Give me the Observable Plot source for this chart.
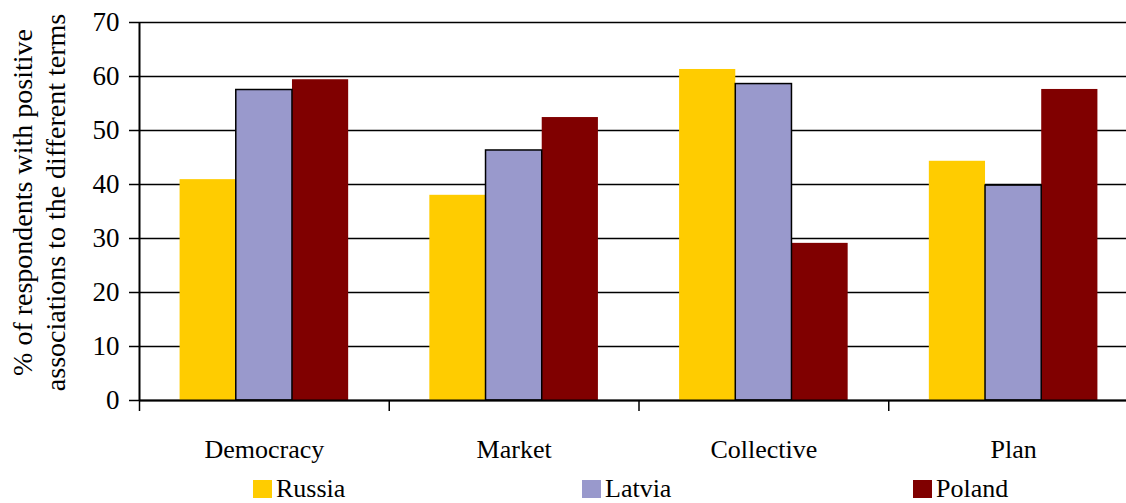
<!DOCTYPE html>
<html><head><meta charset="utf-8">
<script src="https://cdn.jsdelivr.net/npm/d3@7"></script>
<script src="https://cdn.jsdelivr.net/npm/@observablehq/plot@0.6"></script>
<style>
html,body{margin:0;padding:0;background:#fff;overflow:hidden;font-family:'Liberation Serif',serif;}
#wrap{position:relative;width:1126px;height:503px;font-family:'Liberation Serif',serif;}
#wrap svg{display:block;}
#wrap svg text{font-family:'Liberation Serif',serif !important;}
.leg{position:absolute;top:474px;display:flex;align-items:center;font-size:26px;line-height:30px;color:#000;font-family:'Liberation Serif',serif;}
.sw{width:19px;height:18px;margin-right:4px;}
</style></head><body><div id="wrap"></div>
<script>
const categories = ["Democracy", "Market", "Collective", "Plan"];
const countries = ["Russia", "Latvia", "Poland"];
const russia = [40.9, 38.0, 61.3, 44.3];
const latvia = [57.5, 46.3, 58.6, 39.8];
const poland = [59.4, 52.4, 29.1, 57.6];
const colors = ["#FFCC00", "#9999CC", "#800000"];
const yTicks = [0, 10, 20, 30, 40, 50, 60, 70];
const yLabel = "% of respondents with positive\nassociations to the different terms";

const FONT = "'Liberation Serif', serif";
const series = [russia, latvia, poland];
const rows = [];
categories.forEach((c, i) => countries.forEach((k, j) => rows.push({category: c, country: k, i, j, value: series[j][i]})));

const groupStart = 0.1625, barW = 0.225;
const x1 = d => d.i + groupStart + d.j * barW;
const x2 = d => d.i + groupStart + (d.j + 1) * barW;

const chart = Plot.plot({
  width: 1126, height: 470,
  marginLeft: 139, marginRight: 0, marginTop: 22, marginBottom: 70,
  style: {fontFamily: FONT, fontSize: "26px", color: "black", background: "white", overflow: "visible"},
  x: {domain: [0, categories.length], range: [139, 1138]},
  y: {domain: [0, 70]},
  color: {domain: countries, range: colors},
  marks: [
    Plot.gridY(yTicks, {stroke: "black", strokeOpacity: 1, strokeWidth: 1.5}),
    Plot.rectY(rows, {x1, x2, y1: 0, y2: "value", fill: "country"}),
    Plot.rectY(rows.filter(d => d.country === "Latvia"), {x1, x2, y1: 0, y2: "value", fill: "none", stroke: "black", strokeWidth: 1.5}),
    Plot.ruleY([0], {stroke: "black", strokeWidth: 2}),
    Plot.ruleX([0], {stroke: "black", strokeWidth: 2}),
    Plot.axisY({ticks: yTicks, tickSize: 10, tickPadding: 10, fontSize: 27, fontFamily: FONT, strokeWidth: 1.5, label: null}),
    Plot.axisX({ticks: d3.range(categories.length + 1), tickSize: 11, tickFormat: () => "", strokeWidth: 1.5, label: null}),
    Plot.axisX({ticks: categories.map((c, i) => i + 0.5), tickSize: 0, tickPadding: 39, tickFormat: v => categories[Math.floor(v)], fontSize: 26, fontFamily: FONT, label: null}),
    Plot.text([yLabel], {text: d => d, frameAnchor: "left", textAnchor: "middle", rotate: -90, dx: -102, dy: -9, fontSize: 28, fontFamily: FONT, lineHeight: 1.18, fill: "black"})
  ]
});
const wrap = document.getElementById("wrap");
wrap.appendChild(chart);

const legLeft = [253, 582, 913];
countries.forEach((k, j) => {
  const item = document.createElement("div");
  item.className = "leg";
  item.style.left = legLeft[j] + "px";
  const sw = document.createElement("div");
  sw.className = "sw";
  sw.style.background = colors[j];
  const t = document.createElement("span");
  t.textContent = k;
  item.appendChild(sw);
  item.appendChild(t);
  wrap.appendChild(item);
});
</script></body></html>
